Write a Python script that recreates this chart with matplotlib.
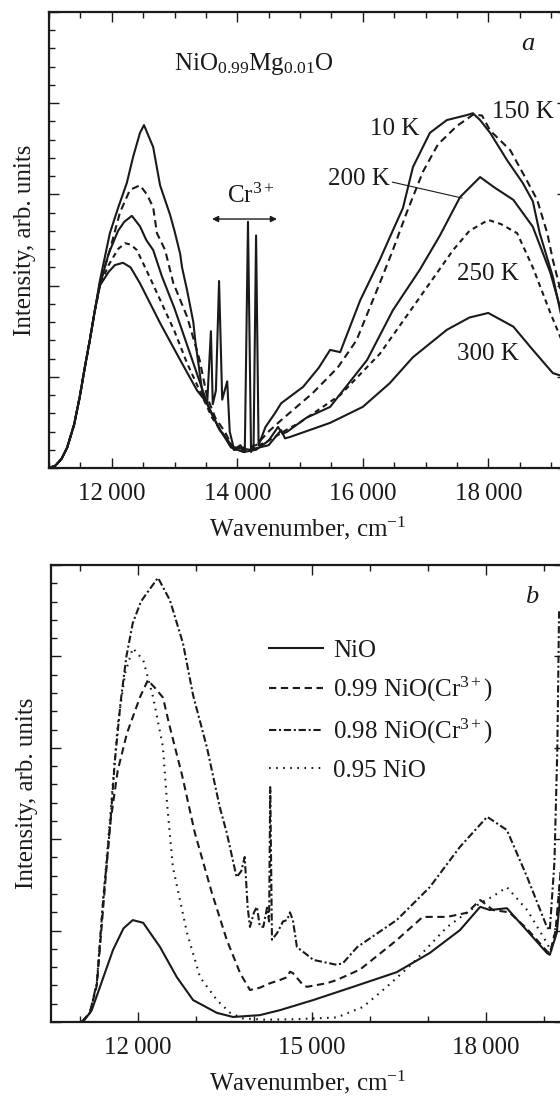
import numpy as np
import matplotlib
matplotlib.use('Agg')
import matplotlib.pyplot as plt
from matplotlib.ticker import MultipleLocator, FuncFormatter

plt.rcParams['font.family'] = ['Liberation Serif', 'DejaVu Serif']
plt.rcParams['mathtext.fontset'] = 'custom'
plt.rcParams['mathtext.rm'] = 'Liberation Serif'
plt.rcParams['mathtext.it'] = 'Liberation Serif:italic'
plt.rcParams['mathtext.bf'] = 'Liberation Serif:bold'

ink = '#1a1a1a'
fs = 18

#==============================================================================
# data, panel a  (x = wavenumber cm^-1, y = intensity, arb. units 0..100)
#==============================================================================
rise_a = [[11000, 0], [11100, 0.5], [11200, 2], [11290, 4.5], [11400, 9.5],
          [11490, 15.6], [11570, 22], [11650, 28], [11730, 34.5]]

a_10K = np.array(rise_a + [
    [11810, 41], [11970, 51.5], [12100, 57], [12240, 62.5], [12340, 68.2],
    [12450, 73.5], [12514, 75.2], [12580, 73], [12660, 70.4], [12770, 62],
    [12930, 55.5], [13000, 52], [13090, 47], [13120, 44], [13200, 39],
    [13300, 32], [13330, 28], [13450, 16], [13520, 14], [13580, 30],
    [13610, 14], [13660, 17], [13710, 41], [13760, 15], [13840, 19],
    [13880, 8], [13950, 4], [14050, 5], [14120, 3.5], [14171, 54],
    [14220, 3.5], [14260, 5], [14300, 51], [14340, 5], [14450, 9],
    [14600, 12], [14700, 14.2], [15050, 17.8], [15300, 22], [15480, 25.9],
    [15640, 25.4], [15960, 36.8], [16270, 45.6], [16460, 51.5], [16640, 57],
    [16800, 66], [17070, 73.5], [17340, 76.3], [17660, 77.4], [17755, 77.8],
    [17870, 76.3], [18030, 73.5], [18300, 67.5], [18550, 62.5], [18710, 58.5],
    [18820, 51.5], [19030, 41.9], [19170, 33], [19250, 29]])

a_150K = np.array(rise_a + [
    [11810, 40.5], [11970, 47.8], [12130, 56], [12290, 61], [12450, 62],
    [12560, 60], [12660, 57.2], [12720, 51.5], [12850, 47.8], [12980, 40.6],
    [13200, 33.2], [13400, 23.7], [13520, 15.6], [13650, 11], [13800, 8],
    [13950, 4], [14100, 4.5], [14300, 5], [14500, 8], [14700, 10.5],
    [15200, 16.4], [15600, 22], [15900, 28], [16270, 40.5], [16480, 47.8],
    [16700, 56], [16960, 65], [17200, 71], [17500, 75], [17760, 77.5],
    [17900, 77.3], [18030, 74], [18350, 69.7], [18550, 64.7], [18780, 58.8],
    [18940, 51.5], [19030, 45.6], [19170, 38], [19250, 34]])

a_200K = np.array(rise_a + [
    [11810, 40], [11950, 47], [12100, 52], [12200, 54], [12320, 55.3],
    [12450, 53], [12550, 50], [12660, 47.8], [12800, 42], [13000, 35],
    [13200, 27], [13400, 19], [13550, 13], [13700, 9], [13900, 4.5],
    [14100, 3.5], [14300, 4], [14500, 6], [14650, 9], [14720, 7.5],
    [14790, 7.9], [15100, 11], [15480, 13.4], [16070, 23.7], [16480, 34.6],
    [16910, 43.5], [17230, 51], [17550, 59.4], [17870, 63.8], [18100, 61.5],
    [18400, 58.8], [18710, 52.9], [18990, 42.8], [19170, 34], [19250, 30]])

a_250K = np.array(rise_a + [
    [11810, 40], [11950, 44.5], [12100, 48], [12210, 49.3], [12300, 49],
    [12400, 47.8], [12600, 42], [12800, 36], [13000, 30], [13200, 23],
    [13400, 17], [13600, 11], [13800, 7], [13950, 4], [14200, 4],
    [14500, 6], [14800, 8.5], [15000, 10], [15640, 16], [16270, 25],
    [16800, 35.3], [17440, 47.8], [17700, 52], [18000, 54.4], [18200, 53.5],
    [18460, 51.5], [18710, 44], [18990, 34], [19170, 28], [19250, 25]])

a_300K = np.array(rise_a + [
    [11810, 40], [11950, 43], [12050, 44.5], [12180, 45], [12300, 44],
    [12450, 40.5], [12770, 31.8], [13090, 23.7], [13360, 17], [13520, 14.2],
    [13720, 8.3], [13930, 4.6], [14200, 4], [14500, 5], [14650, 7.5],
    [14700, 8.3], [14760, 6.5], [14840, 6.8], [15480, 9.9], [16000, 13.4],
    [16430, 18.6], [16800, 24.3], [17340, 30.3], [17700, 33], [18000, 34],
    [18400, 31], [18710, 25.9], [19030, 20.8], [19170, 20.2], [19250, 21]])

#==============================================================================
# data, panel b
#==============================================================================
b_NiO = np.array([
    [11050, 0], [11200, 2.5], [11345, 7.7], [11570, 15.8], [11750, 20.5],
    [11910, 22.3], [12090, 21.7], [12380, 16.4], [12670, 9.8], [12950, 4.8],
    [13360, 2], [13640, 1.1], [14100, 1.5], [14450, 2.6], [15020, 4.8],
    [15710, 7.7], [16460, 10.9], [17030, 15.1], [17550, 20.1], [17900, 25.2],
    [18070, 24.5], [18360, 24.9], [18700, 20.1], [19050, 15.1], [19100, 14.7],
    [19220, 19.5], [19300, 30]])

b_099 = np.array([
    [11030, 0], [11170, 2], [11290, 8], [11400, 25], [11517, 43],
    [11650, 55], [11810, 63.2], [12035, 71.1], [12170, 74.8], [12300, 73],
    [12430, 71], [12550, 64.5], [12760, 54], [12980, 41.4], [13275, 28.2],
    [13530, 18], [13760, 10.7], [13930, 7], [14100, 7.5], [14280, 8.5],
    [14450, 9.2], [14570, 9.8], [14620, 11], [14670, 10.7], [14845, 8.1],
    [14914, 7.7], [15260, 8.5], [15430, 9.2], [15830, 11.5], [16460, 17.9],
    [16910, 23], [17330, 23], [17670, 23.9], [17900, 26.7], [18120, 24.5],
    [18400, 24], [18700, 20.5], [19050, 15.5], [19100, 15], [19200, 20],
    [19300, 35]])

b_098 = np.array([
    [11030, 0], [11170, 2], [11290, 8.5], [11400, 26.7], [11520, 43],
    [11600, 57], [11700, 70], [11800, 80], [11910, 87.3], [12050, 92],
    [12190, 94.5], [12345, 97.2], [12550, 92.3], [12775, 82.9], [12950, 71.5],
    [13190, 60], [13410, 47], [13530, 41.4], [13700, 31.7], [13780, 33],
    [13840, 36.1], [13890, 25.2], [13930, 20.8], [14000, 24], [14050, 25.2],
    [14100, 21], [14160, 20.8], [14225, 25], [14260, 22], [14280, 51.4],
    [14310, 18], [14400, 19.5], [14500, 22], [14570, 22.3], [14620, 24],
    [14670, 22.3], [14740, 16.4], [14965, 14.2], [15020, 13.6], [15430, 12.5],
    [15535, 12.9], [15780, 16.4], [16460, 22.3], [17030, 29.5], [17550, 38.3],
    [18020, 44.9], [18360, 42], [18710, 31.7], [19050, 20.8], [19100, 20.1],
    [19180, 35], [19230, 60], [19260, 90]])

b_095 = np.array([
    [11030, 0], [11170, 2], [11290, 8.5], [11400, 27], [11520, 45],
    [11650, 65], [11780, 76.4], [11910, 81.8], [12090, 79.2], [12260, 71.1],
    [12430, 60.2], [12500, 48], [12600, 34], [12845, 19.5], [13070, 9.8],
    [13360, 4.8], [13590, 2], [13800, 0.8], [14200, 0.5], [14700, 0.6],
    [15430, 1], [15880, 3.3], [16290, 7.7], [16740, 12.9], [17330, 20.8],
    [17900, 26], [18120, 27.5], [18360, 29.5], [18710, 24.5], [19050, 17.3],
    [19120, 15.5], [19220, 22], [19300, 35]])

lis_b_label = ['NiO', '0.99 NiO(Cr$^{3+}$)', '0.98 NiO(Cr$^{3+}$)', '0.95 NiO']


#==============================================================================
def fmt_wn(v, pos):
    v = int(round(v))
    return '%d\u2009%03d' % (v // 1000, v % 1000)


def style_axes(ax, major_x, minor_x):
    ax.set_ylim(0, 100)
    ax.xaxis.set_major_locator(MultipleLocator(major_x))
    ax.xaxis.set_minor_locator(MultipleLocator(minor_x))
    ax.yaxis.set_major_locator(MultipleLocator(20))
    ax.yaxis.set_minor_locator(MultipleLocator(4))
    ax.xaxis.set_major_formatter(FuncFormatter(fmt_wn))
    ax.tick_params(which='both', direction='in', top=True, right=True,
                   labelleft=False, width=1.0, color=ink, labelcolor=ink)
    ax.tick_params(which='major', length=7, labelsize=fs, pad=11)
    ax.tick_params(which='minor', length=4)
    ax.tick_params(axis='y', which='minor', right=False)
    for s in ax.spines.values():
        s.set_linewidth(1.6)
        s.set_color(ink)
    ax.set_xlabel('Wavenumber, cm$^{-1}$', fontsize=fs, color=ink, labelpad=7)
    ax.set_ylabel('Intensity, arb. units', fontsize=fs, color=ink, labelpad=9)


fig = plt.figure(figsize=(5.6, 10.98), dpi=100)

# panel a
ax = fig.add_axes([49 / 560, 1 - 468 / 1098, (566.7 - 49) / 560, 456 / 1098])
lw = 1.5
ax.plot(a_300K[:, 0], a_300K[:, 1], color=ink, lw=lw, ls='-')
ax.plot(a_250K[:, 0], a_250K[:, 1], color=ink, lw=lw, ls=(0, (2.5, 2)))
ax.plot(a_200K[:, 0], a_200K[:, 1], color=ink, lw=lw, ls='-')
ax.plot(a_150K[:, 0], a_150K[:, 1], color=ink, lw=lw, ls=(0, (3.5, 2.2)))
ax.plot(a_10K[:, 0], a_10K[:, 1], color=ink, lw=lw, ls='-')
ax.set_xlim(11000, 19250)
style_axes(ax, 2000, 500)

ax.text(12990, 87.3, 'NiO$_{0.99}$Mg$_{0.01}$O', fontsize=fs, color=ink, va='baseline')
ax.text(18633, 91.7, 'a', fontsize=fs + 1, style='italic', color=ink, ha='center', va='baseline')
ax.text(16120, 73, '10 K', fontsize=fs, color=ink, va='baseline')
ax.text(18060, 76.8, '150 K', fontsize=fs, color=ink, va='baseline')
ax.annotate('200 K', xy=(17582, 59.2), xytext=(15440, 62), fontsize=fs, color=ink,
            va='baseline', arrowprops=dict(arrowstyle='-', lw=0.8, color=ink,
                                           shrinkA=0, shrinkB=0, relpos=(1.0, 0.4)))
ax.text(17500, 41.2, '250 K', fontsize=fs, color=ink, va='baseline')
ax.text(17500, 23.7, '300 K', fontsize=fs, color=ink, va='baseline')
ax.text(14219, 58.1, 'Cr$^{3+}$', fontsize=fs, color=ink, ha='center', va='baseline')
ax.annotate('', xy=(13598, 54.6), xytext=(14633, 54.6),
            arrowprops=dict(arrowstyle='<|-|>', lw=1.0, color=ink, mutation_scale=9,
                            shrinkA=0, shrinkB=0))

# panel b
ax = fig.add_axes([51 / 560, 1 - 1022 / 1098, (564.3 - 51) / 560, 457 / 1098])
ax.plot(b_NiO[:, 0], b_NiO[:, 1], color=ink, lw=lw, ls='-', label=lis_b_label[0])
ax.plot(b_099[:, 0], b_099[:, 1], color=ink, lw=lw, ls=(0, (3.5, 2.2)), label=lis_b_label[1])
ax.plot(b_098[:, 0], b_098[:, 1], color=ink, lw=lw, ls=(0, (3.5, 1.3, 1, 1.3)), label=lis_b_label[2])
ax.plot(b_095[:, 0], b_095[:, 1], color=ink, lw=lw, ls=(0, (0.8, 2.6)), label=lis_b_label[3])
ax.set_xlim(10500, 19350)
style_axes(ax, 3000, 1000)
ax.text(18793, 91.7, 'b', fontsize=fs + 1, style='italic', color=ink, ha='center', va='baseline')
ax.legend(loc='upper left', bbox_to_anchor=(0.4247, 0.837), frameon=False, fontsize=fs,
          handlelength=2.15, handletextpad=0.42, labelspacing=0.52,
          borderpad=0, borderaxespad=0, labelcolor=ink)

plt.savefig('out.png', dpi=100)
